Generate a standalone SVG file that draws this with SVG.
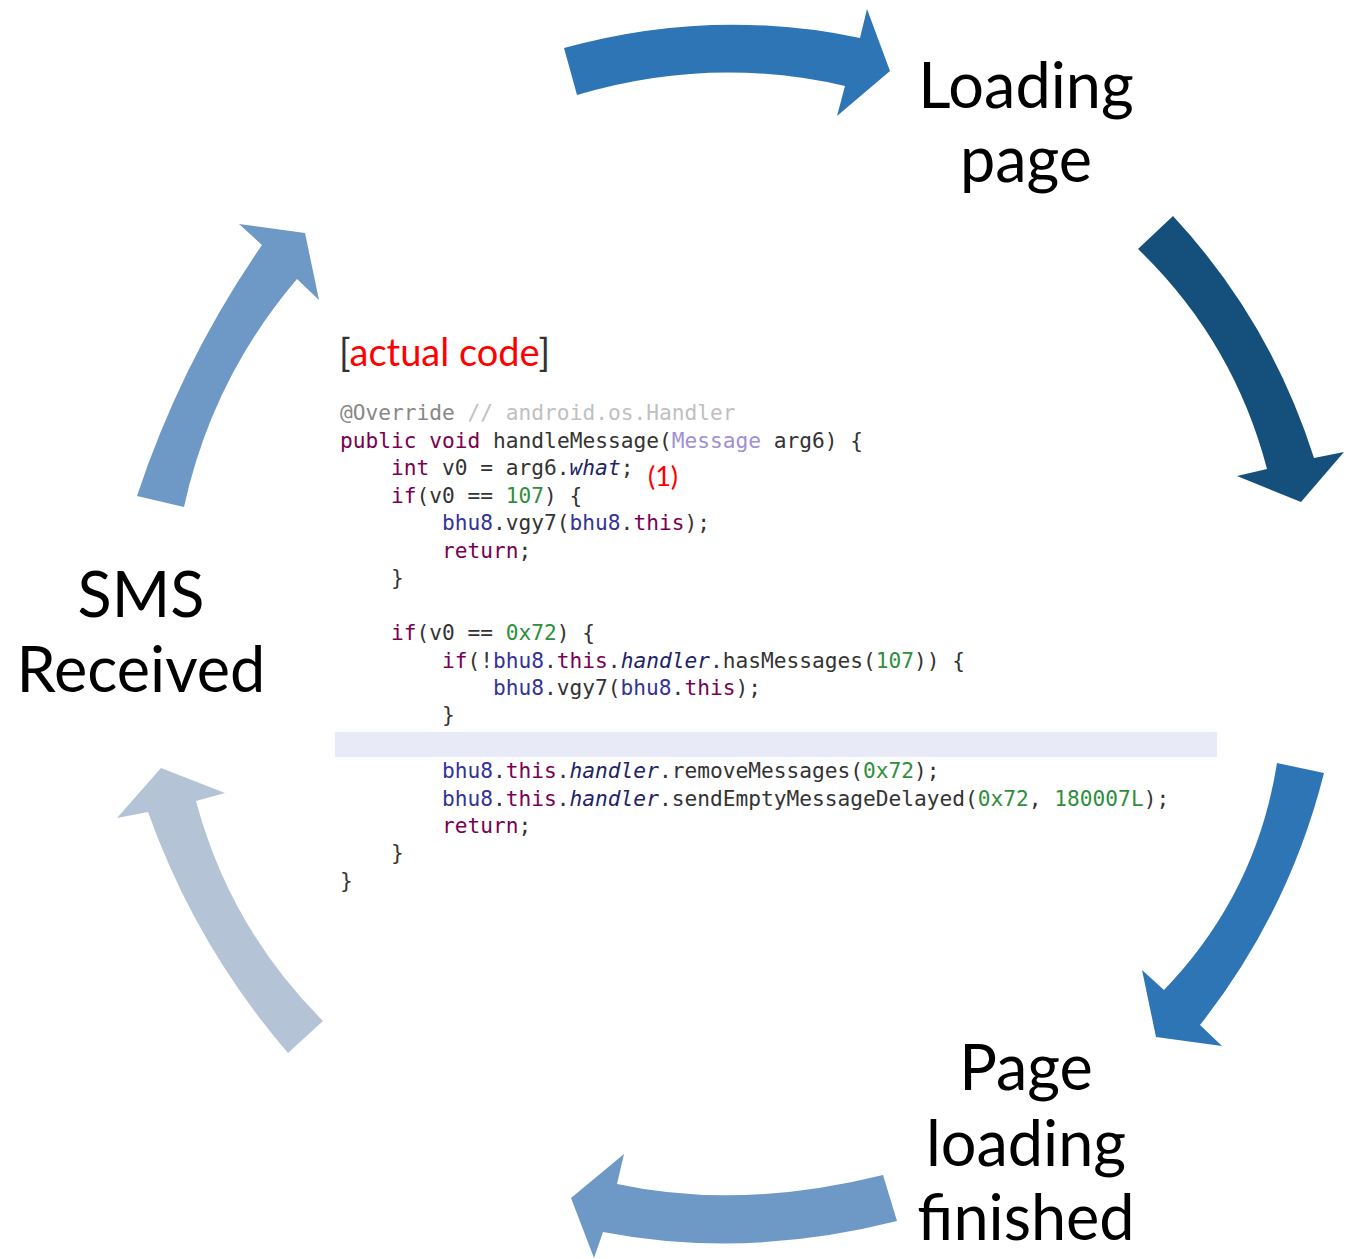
<svg xmlns="http://www.w3.org/2000/svg" width="1355" height="1259" viewBox="0 0 1355 1259">
<style>
.lbl{font-family:Lato,"Open Sans","Liberation Sans",sans-serif;font-size:63px;fill:#000;text-anchor:middle}
.code{font-family:"DejaVu Sans Mono","Liberation Mono",monospace;font-size:21.2px;fill:#333333}
.kw{fill:#7A0052}
.num{fill:#2f8f3c}
.var{fill:#33339a}
.fld{fill:#222266;font-style:italic}
.typ{fill:#a08fd2}
.ann{fill:#888888}
.cmt{fill:#c0c0c0}
.red{fill:#ff0000}
</style>
<rect width="1355" height="1259" fill="#ffffff"/>
<g id="connectors">
  <path d="M564,48 Q712,7 860,38 L867,9 L890,71 L837,116 L845,86 Q711,55 577,95 Z" fill="#2E75B6"/>
  <path d="M1138,249 L1173,216 Q1270.5,321 1314,458 L1344,452 L1301,502 L1237,476 L1267,469 Q1233.5,341 1138,249 Z" fill="#15507C"/>
  <path d="M1277,763 L1324,773 Q1289,912 1200,1025 L1222,1046 L1156,1037 L1142,970 L1164,990 Q1256.3,894.3 1277,763 Z" fill="#2E75B6"/>
  <path d="M883,1175 L897,1221 Q745,1259.5 603,1232 L594,1258 L571,1198 L624,1154 L617,1184 Q740,1210.5 883,1175 Z" fill="#6E99C6"/>
  <path d="M288,1053 L323,1021 Q230,928 196,801 L225,793 L161,768 L117,818 L148,812 Q195.6,945.5 288,1053 Z" fill="#B4C3D6"/>
  <path d="M137,496 L184,507 Q212,378.8 297,279 L319,300 L305,233 L239,224 L262,245 Q181.5,361.5 137,496 Z" fill="#6E99C6"/>
</g>
<g id="node-loading-page">
  <text class="lbl" x="1026" y="108">Loading</text>
  <text class="lbl" x="1026" y="182">page</text>
</g>
<g id="node-page-loading-finished">
  <text class="lbl" x="1026" y="1090">Page</text>
  <text class="lbl" x="1026" y="1166">loading</text>
  <text class="lbl" x="1026" y="1240">finished</text>
</g>
<g id="node-sms-received">
  <text class="lbl" x="141" y="617">SMS</text>
  <text class="lbl" x="141" y="692">Received</text>
</g>
<g id="node-code">
  <text x="339" y="366" style="font-family:Lato,'Open Sans','Liberation Sans',sans-serif;font-size:38px;fill:#333">[<tspan class="red">actual code</tspan>]</text>
  <rect x="335" y="732" width="882" height="25" fill="#E8EAF7"/>
  <g class="code" xml:space="preserve">
    <text x="340" y="420"><tspan class="ann">@Override</tspan>  <tspan class="cmt">// android.os.Handler</tspan></text>
    <text x="340" y="448"><tspan class="kw">public</tspan> <tspan class="kw">void</tspan> handleMessage(<tspan class="typ">Message</tspan> arg6) {</text>
    <text x="391" y="475"><tspan class="kw">int</tspan> v0 = arg6.<tspan class="fld">what</tspan>;</text>
    <text x="391" y="503"><tspan class="kw">if</tspan>(v0 == <tspan class="num">107</tspan>) {</text>
    <text x="442" y="530"><tspan class="var">bhu8</tspan>.vgy7(<tspan class="var">bhu8</tspan>.<tspan class="kw">this</tspan>);</text>
    <text x="442" y="558"><tspan class="kw">return</tspan>;</text>
    <text x="391" y="585">}</text>
    <text x="391" y="640"><tspan class="kw">if</tspan>(v0 == <tspan class="num">0x72</tspan>) {</text>
    <text x="442" y="668"><tspan class="kw">if</tspan>(!<tspan class="var">bhu8</tspan>.<tspan class="kw">this</tspan>.<tspan class="fld">handler</tspan>.hasMessages(<tspan class="num">107</tspan>)) {</text>
    <text x="493" y="695"><tspan class="var">bhu8</tspan>.vgy7(<tspan class="var">bhu8</tspan>.<tspan class="kw">this</tspan>);</text>
    <text x="442" y="722">}</text>
    <text x="442" y="778"><tspan class="var">bhu8</tspan>.<tspan class="kw">this</tspan>.<tspan class="fld">handler</tspan>.removeMessages(<tspan class="num">0x72</tspan>);</text>
    <text x="442" y="806"><tspan class="var">bhu8</tspan>.<tspan class="kw">this</tspan>.<tspan class="fld">handler</tspan>.sendEmptyMessageDelayed(<tspan class="num">0x72</tspan>, <tspan class="num">180007L</tspan>);</text>
    <text x="442" y="833"><tspan class="kw">return</tspan>;</text>
    <text x="391" y="860">}</text>
    <text x="340" y="888">}</text>
  </g>
  <text x="648" y="486" style="font-family:Lato,'Open Sans','Liberation Sans',sans-serif;font-size:27px" class="red">(1)</text>
</g>
</svg>
